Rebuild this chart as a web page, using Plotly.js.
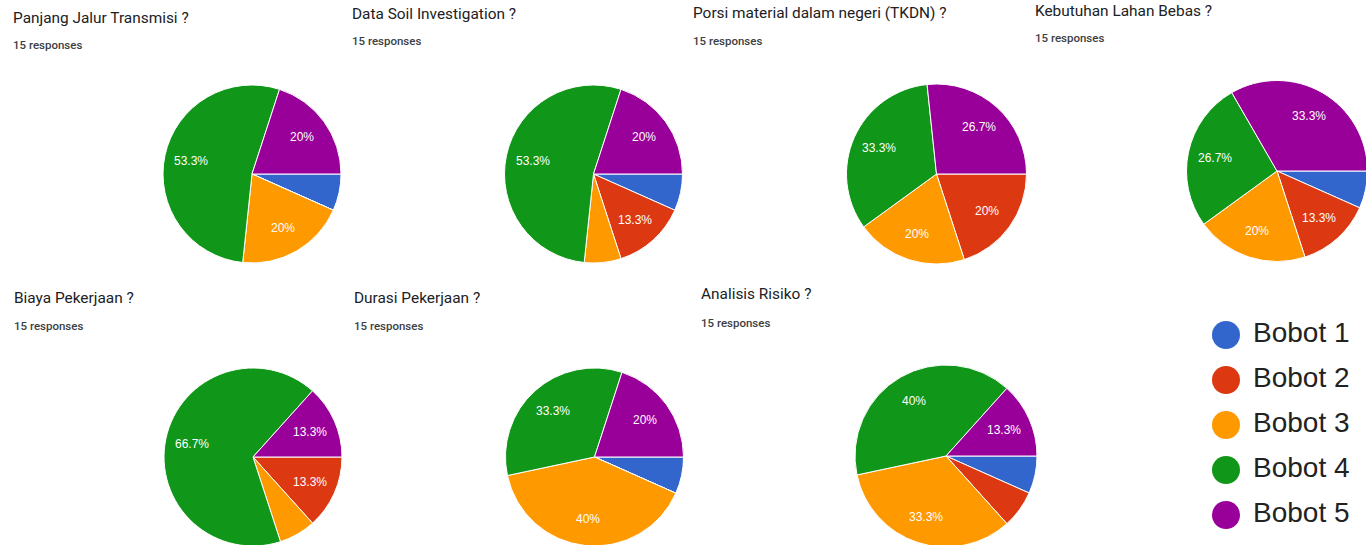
<!DOCTYPE html>
<html>
<head>
<meta charset="utf-8">
<script src="https://cdn.plot.ly/plotly-3.0.1.min.js"></script>
<style>
html,body{margin:0;padding:0;background:#fff;overflow:hidden;width:1366px;height:545px;}
#chart{width:1400px;height:560px;}
</style>
</head>
<body>
<div id="chart"></div>
<script>
// ---- data ----
const categories = ["Bobot 1", "Bobot 2", "Bobot 3", "Bobot 4", "Bobot 5"];
const colors = ["#3366cc", "#dc3912", "#ff9900", "#109618", "#990099"];
const questions = [
  "Panjang Jalur Transmisi ?",
  "Data Soil Investigation ?",
  "Porsi material dalam negeri (TKDN) ?",
  "Kebutuhan Lahan Bebas ?",
  "Biaya Pekerjaan ?",
  "Durasi Pekerjaan ?",
  "Analisis Risiko ?"
];
const responses = [15, 15, 15, 15, 15, 15, 15];
// response counts per question (Bobot 1..5)
const panjangJalur   = [1, 0, 3, 8, 3];
const dataSoil       = [1, 2, 1, 8, 3];
const porsiMaterial  = [0, 3, 3, 5, 4];
const kebutuhanLahan = [1, 2, 3, 4, 5];
const biayaPekerjaan = [0, 2, 1, 10, 2];
const durasiPekerjaan= [1, 0, 6, 5, 3];
const analisisRisiko = [1, 1, 5, 6, 2];
const seriesValues = [panjangJalur, dataSoil, porsiMaterial, kebutuhanLahan, biayaPekerjaan, durasiPekerjaan, analisisRisiko];

// ---- layout (pixels) ----
const W = 1400, H = 560;
const pies = [
  {cx: 252, cy: 174, r: 89},
  {cx: 593.5, cy: 174, r: 89},
  {cx: 936.5, cy: 174, r: 90},
  {cx: 1277, cy: 171, r: 90.5},
  {cx: 253, cy: 457, r: 89},
  {cx: 594.5, cy: 457, r: 89},
  {cx: 946, cy: 456, r: 91}
];
const titlePos = [
  {x: 11, y: 18, ry: 45},
  {x: 350, y: 14, ry: 41},
  {x: 691, y: 13, ry: 41},
  {x: 1033, y: 11, ry: 38},
  {x: 12, y: 298, ry: 326},
  {x: 352, y: 298, ry: 326},
  {x: 699, y: 294, ry: 323}
];
const labelRadius = 0.7;

function fmtPct(v, total) {
  const p = v / total;
  if (p < 0.1) return "";
  let s = (p * 100).toPrecision(3);
  if (s.indexOf('.') !== -1) s = s.replace(/\.?0+$/, '');
  return s + "%";
}

const traces = [];
const annotations = [];
seriesValues.forEach((vals, i) => {
  const p = pies[i];
  const total = vals.reduce((a, b) => a + b, 0);
  traces.push({
    type: 'pie',
    labels: categories,
    values: vals,
    textinfo: 'none',
    marker: {colors: colors, line: {color: '#ffffff', width: 1}},
    sort: false,
    direction: 'clockwise',
    rotation: 90,
    showlegend: false,
    hoverinfo: 'label+percent',
    domain: {
      x: [(p.cx - p.r) / W, (p.cx + p.r) / W],
      y: [1 - (p.cy + p.r) / H, 1 - (p.cy - p.r) / H]
    }
  });
  // slice labels placed along each slice's mid angle (start at 3 o'clock, clockwise)
  let cum = 0;
  vals.forEach((v) => {
    const mid = (cum + v / 2) / total * 2 * Math.PI;
    cum += v;
    const txt = fmtPct(v, total);
    if (!txt) return;
    const lx = p.cx + Math.cos(mid) * p.r * labelRadius;
    const ly = p.cy + Math.sin(mid) * p.r * labelRadius;
    annotations.push({
      text: txt, xref: 'paper', yref: 'paper',
      x: lx / W, y: 1 - ly / H, xanchor: 'center', yanchor: 'middle',
      showarrow: false,
      font: {family: 'Arial, "Liberation Sans", sans-serif', size: 12, color: '#ffffff'}
    });
  });
  const t = titlePos[i];
  annotations.push({
    text: questions[i], xref: 'paper', yref: 'paper',
    x: t.x / W, y: 1 - t.y / H, xanchor: 'left', yanchor: 'middle',
    showarrow: false,
    font: {family: 'Roboto, sans-serif', size: 15.4, color: '#202124'}
  });
  annotations.push({
    text: responses[i] + ' responses', xref: 'paper', yref: 'paper',
    x: t.x / W, y: 1 - t.ry / H, xanchor: 'left', yanchor: 'middle',
    showarrow: false,
    font: {family: 'Roboto, sans-serif', size: 11.5, color: '#3c4043', weight: 500}
  });
});

// legend drawn as marker + text traces
const legTop = 312.5, legBottom = 537.5;
traces.push({
  type: 'scatter', mode: 'markers',
  x: categories.map(() => 0), y: categories.map((c, i) => i),
  marker: {size: 28, color: colors, line: {width: 0}},
  cliponaxis: false, showlegend: false, hoverinfo: 'skip',
  xaxis: 'x', yaxis: 'y'
});
traces.push({
  type: 'scatter', mode: 'text',
  x: categories.map(() => 1), y: categories.map((c, i) => i),
  text: categories, textposition: 'middle right',
  textfont: {family: 'Arial, "Liberation Sans", sans-serif', size: 28, color: '#222222'},
  cliponaxis: false, showlegend: false, hoverinfo: 'skip',
  xaxis: 'x', yaxis: 'y'
});

const layout = {
  width: W, height: H,
  margin: {l: 0, r: 0, t: 0, b: 0},
  paper_bgcolor: '#ffffff', plot_bgcolor: 'rgba(0,0,0,0)',
  showlegend: false,
  annotations: annotations,
  xaxis: {domain: [1226 / W, 1253 / W], range: [0, 1], visible: false, fixedrange: true},
  yaxis: {domain: [1 - legBottom / H, 1 - legTop / H], range: [4.5, -0.5], visible: false, fixedrange: true}
};

Plotly.newPlot('chart', traces, layout, {displayModeBar: false, staticPlot: true});
</script>
</body>
</html>
